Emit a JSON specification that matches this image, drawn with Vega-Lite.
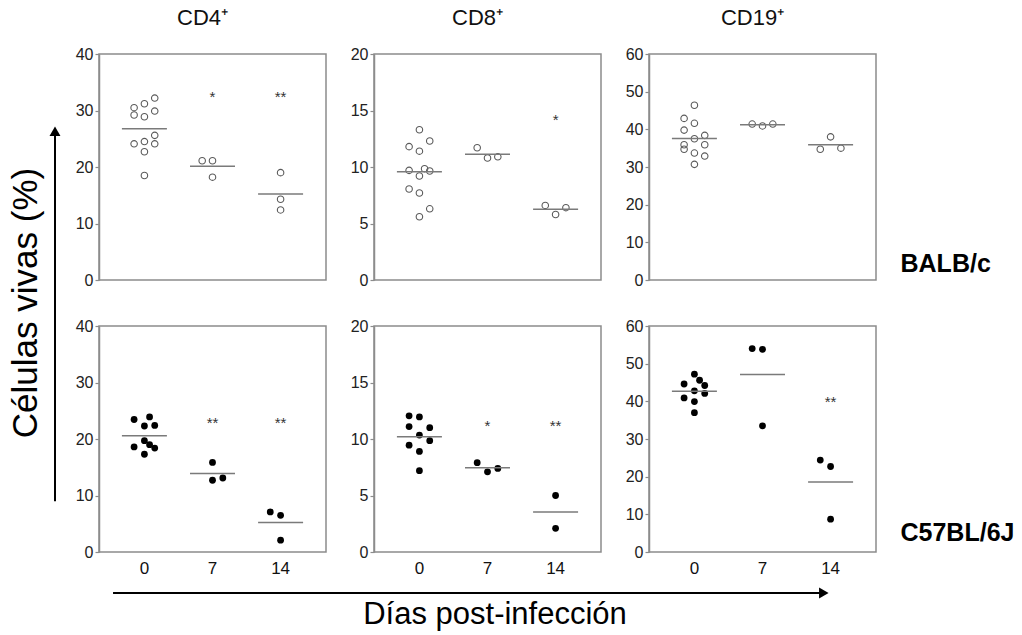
{
  "$schema": "https://vega.github.io/schema/vega-lite/v6.json",
  "padding": {"left": 8, "top": 6, "right": 0, "bottom": 0},
  "config": {
    "font": "Liberation Sans",
    "view": {"stroke": "#8c8c8c", "strokeWidth": 1.5},
    "axis": {"grid": false, "domainColor": "#8c8c8c", "domainWidth": 1.5, "tickColor": "#8c8c8c", "tickSize": 4, "tickWidth": 1.2, "labelColor": "#222", "labelFontSize": 16, "labelPadding": 2, "labelFont": "Liberation Sans", "titleFont": "Liberation Sans"},
    "title": {"font": "Liberation Sans", "fontWeight": "normal", "color": "#111"}
  },
  "datasets": {
    "dots": [
      {"strain": "BALB/c", "cell": "CD4", "day": 0, "value": 32.2, "jitter": 1},
      {"strain": "BALB/c", "cell": "CD4", "day": 0, "value": 31.2, "jitter": 0},
      {"strain": "BALB/c", "cell": "CD4", "day": 0, "value": 30.5, "jitter": -1},
      {"strain": "BALB/c", "cell": "CD4", "day": 0, "value": 29.2, "jitter": -1},
      {"strain": "BALB/c", "cell": "CD4", "day": 0, "value": 28.9, "jitter": 0},
      {"strain": "BALB/c", "cell": "CD4", "day": 0, "value": 29.9, "jitter": 1},
      {"strain": "BALB/c", "cell": "CD4", "day": 0, "value": 25.6, "jitter": 1},
      {"strain": "BALB/c", "cell": "CD4", "day": 0, "value": 24.1, "jitter": -1},
      {"strain": "BALB/c", "cell": "CD4", "day": 0, "value": 24.5, "jitter": 0},
      {"strain": "BALB/c", "cell": "CD4", "day": 0, "value": 24.1, "jitter": 1},
      {"strain": "BALB/c", "cell": "CD4", "day": 0, "value": 22.7, "jitter": 0},
      {"strain": "BALB/c", "cell": "CD4", "day": 0, "value": 18.5, "jitter": 0},
      {"strain": "BALB/c", "cell": "CD4", "day": 7, "value": 21.1, "jitter": -1},
      {"strain": "BALB/c", "cell": "CD4", "day": 7, "value": 21.1, "jitter": 0},
      {"strain": "BALB/c", "cell": "CD4", "day": 7, "value": 18.2, "jitter": 0},
      {"strain": "BALB/c", "cell": "CD4", "day": 14, "value": 19.0, "jitter": 0},
      {"strain": "BALB/c", "cell": "CD4", "day": 14, "value": 14.3, "jitter": 0},
      {"strain": "BALB/c", "cell": "CD4", "day": 14, "value": 12.4, "jitter": 0},

      {"strain": "BALB/c", "cell": "CD8", "day": 0, "value": 13.3, "jitter": 0},
      {"strain": "BALB/c", "cell": "CD8", "day": 0, "value": 12.3, "jitter": 1},
      {"strain": "BALB/c", "cell": "CD8", "day": 0, "value": 11.8, "jitter": -1},
      {"strain": "BALB/c", "cell": "CD8", "day": 0, "value": 11.4, "jitter": 0},
      {"strain": "BALB/c", "cell": "CD8", "day": 0, "value": 9.7, "jitter": -1},
      {"strain": "BALB/c", "cell": "CD8", "day": 0, "value": 9.85, "jitter": 0.5},
      {"strain": "BALB/c", "cell": "CD8", "day": 0, "value": 9.65, "jitter": 1},
      {"strain": "BALB/c", "cell": "CD8", "day": 0, "value": 9.2, "jitter": 0},
      {"strain": "BALB/c", "cell": "CD8", "day": 0, "value": 8.05, "jitter": -1},
      {"strain": "BALB/c", "cell": "CD8", "day": 0, "value": 7.7, "jitter": 0},
      {"strain": "BALB/c", "cell": "CD8", "day": 0, "value": 6.3, "jitter": 1},
      {"strain": "BALB/c", "cell": "CD8", "day": 0, "value": 5.6, "jitter": 0},
      {"strain": "BALB/c", "cell": "CD8", "day": 7, "value": 11.7, "jitter": -1},
      {"strain": "BALB/c", "cell": "CD8", "day": 7, "value": 10.8, "jitter": 0},
      {"strain": "BALB/c", "cell": "CD8", "day": 7, "value": 10.9, "jitter": 1},
      {"strain": "BALB/c", "cell": "CD8", "day": 14, "value": 6.6, "jitter": -1},
      {"strain": "BALB/c", "cell": "CD8", "day": 14, "value": 5.8, "jitter": 0},
      {"strain": "BALB/c", "cell": "CD8", "day": 14, "value": 6.4, "jitter": 1},

      {"strain": "BALB/c", "cell": "CD19", "day": 0, "value": 46.4, "jitter": 0},
      {"strain": "BALB/c", "cell": "CD19", "day": 0, "value": 42.9, "jitter": -1},
      {"strain": "BALB/c", "cell": "CD19", "day": 0, "value": 41.6, "jitter": 0},
      {"strain": "BALB/c", "cell": "CD19", "day": 0, "value": 39.8, "jitter": -1},
      {"strain": "BALB/c", "cell": "CD19", "day": 0, "value": 37.5, "jitter": 0},
      {"strain": "BALB/c", "cell": "CD19", "day": 0, "value": 38.4, "jitter": 1},
      {"strain": "BALB/c", "cell": "CD19", "day": 0, "value": 35.9, "jitter": -1},
      {"strain": "BALB/c", "cell": "CD19", "day": 0, "value": 34.7, "jitter": -1},
      {"strain": "BALB/c", "cell": "CD19", "day": 0, "value": 35.9, "jitter": 1},
      {"strain": "BALB/c", "cell": "CD19", "day": 0, "value": 33.7, "jitter": 0},
      {"strain": "BALB/c", "cell": "CD19", "day": 0, "value": 32.9, "jitter": 1},
      {"strain": "BALB/c", "cell": "CD19", "day": 0, "value": 30.7, "jitter": 0},
      {"strain": "BALB/c", "cell": "CD19", "day": 7, "value": 41.4, "jitter": -1},
      {"strain": "BALB/c", "cell": "CD19", "day": 7, "value": 40.9, "jitter": 0},
      {"strain": "BALB/c", "cell": "CD19", "day": 7, "value": 41.4, "jitter": 1},
      {"strain": "BALB/c", "cell": "CD19", "day": 14, "value": 38.0, "jitter": 0},
      {"strain": "BALB/c", "cell": "CD19", "day": 14, "value": 34.7, "jitter": -1},
      {"strain": "BALB/c", "cell": "CD19", "day": 14, "value": 35.0, "jitter": 1},

      {"strain": "C57BL/6J", "cell": "CD4", "day": 0, "value": 23.9, "jitter": 0.5},
      {"strain": "C57BL/6J", "cell": "CD4", "day": 0, "value": 23.45, "jitter": -1},
      {"strain": "C57BL/6J", "cell": "CD4", "day": 0, "value": 22.3, "jitter": 0},
      {"strain": "C57BL/6J", "cell": "CD4", "day": 0, "value": 22.4, "jitter": 1},
      {"strain": "C57BL/6J", "cell": "CD4", "day": 0, "value": 19.7, "jitter": 0},
      {"strain": "C57BL/6J", "cell": "CD4", "day": 0, "value": 19.0, "jitter": 0.5},
      {"strain": "C57BL/6J", "cell": "CD4", "day": 0, "value": 18.6, "jitter": -1},
      {"strain": "C57BL/6J", "cell": "CD4", "day": 0, "value": 18.4, "jitter": 1},
      {"strain": "C57BL/6J", "cell": "CD4", "day": 0, "value": 17.3, "jitter": 0},
      {"strain": "C57BL/6J", "cell": "CD4", "day": 7, "value": 15.85, "jitter": 0},
      {"strain": "C57BL/6J", "cell": "CD4", "day": 7, "value": 12.7, "jitter": 0},
      {"strain": "C57BL/6J", "cell": "CD4", "day": 7, "value": 13.1, "jitter": 1},
      {"strain": "C57BL/6J", "cell": "CD4", "day": 14, "value": 7.1, "jitter": -1},
      {"strain": "C57BL/6J", "cell": "CD4", "day": 14, "value": 6.5, "jitter": 0},
      {"strain": "C57BL/6J", "cell": "CD4", "day": 14, "value": 2.1, "jitter": 0},

      {"strain": "C57BL/6J", "cell": "CD8", "day": 0, "value": 12.05, "jitter": -1},
      {"strain": "C57BL/6J", "cell": "CD8", "day": 0, "value": 11.95, "jitter": 0},
      {"strain": "C57BL/6J", "cell": "CD8", "day": 0, "value": 11.1, "jitter": -1},
      {"strain": "C57BL/6J", "cell": "CD8", "day": 0, "value": 11.0, "jitter": 1},
      {"strain": "C57BL/6J", "cell": "CD8", "day": 0, "value": 10.35, "jitter": 0},
      {"strain": "C57BL/6J", "cell": "CD8", "day": 0, "value": 9.45, "jitter": -1},
      {"strain": "C57BL/6J", "cell": "CD8", "day": 0, "value": 9.85, "jitter": 1},
      {"strain": "C57BL/6J", "cell": "CD8", "day": 0, "value": 8.9, "jitter": 0},
      {"strain": "C57BL/6J", "cell": "CD8", "day": 0, "value": 7.2, "jitter": 0},
      {"strain": "C57BL/6J", "cell": "CD8", "day": 7, "value": 7.9, "jitter": -1},
      {"strain": "C57BL/6J", "cell": "CD8", "day": 7, "value": 7.1, "jitter": 0},
      {"strain": "C57BL/6J", "cell": "CD8", "day": 7, "value": 7.4, "jitter": 1},
      {"strain": "C57BL/6J", "cell": "CD8", "day": 14, "value": 5.0, "jitter": 0},
      {"strain": "C57BL/6J", "cell": "CD8", "day": 14, "value": 2.1, "jitter": 0},

      {"strain": "C57BL/6J", "cell": "CD19", "day": 0, "value": 47.2, "jitter": 0},
      {"strain": "C57BL/6J", "cell": "CD19", "day": 0, "value": 44.6, "jitter": -1},
      {"strain": "C57BL/6J", "cell": "CD19", "day": 0, "value": 45.6, "jitter": 0.5},
      {"strain": "C57BL/6J", "cell": "CD19", "day": 0, "value": 44.2, "jitter": 1},
      {"strain": "C57BL/6J", "cell": "CD19", "day": 0, "value": 42.8, "jitter": 0},
      {"strain": "C57BL/6J", "cell": "CD19", "day": 0, "value": 40.9, "jitter": -1},
      {"strain": "C57BL/6J", "cell": "CD19", "day": 0, "value": 42.1, "jitter": 1},
      {"strain": "C57BL/6J", "cell": "CD19", "day": 0, "value": 39.95, "jitter": 0},
      {"strain": "C57BL/6J", "cell": "CD19", "day": 0, "value": 37.0, "jitter": 0},
      {"strain": "C57BL/6J", "cell": "CD19", "day": 7, "value": 54.0, "jitter": -1},
      {"strain": "C57BL/6J", "cell": "CD19", "day": 7, "value": 53.8, "jitter": 0},
      {"strain": "C57BL/6J", "cell": "CD19", "day": 7, "value": 33.5, "jitter": 0},
      {"strain": "C57BL/6J", "cell": "CD19", "day": 14, "value": 24.4, "jitter": -1},
      {"strain": "C57BL/6J", "cell": "CD19", "day": 14, "value": 22.7, "jitter": 0},
      {"strain": "C57BL/6J", "cell": "CD19", "day": 14, "value": 8.7, "jitter": 0}
    ],
    "stars": [
      {"strain": "BALB/c", "cell": "CD4", "day": 7, "value": 33, "label": "*"},
      {"strain": "BALB/c", "cell": "CD4", "day": 14, "value": 33, "label": "**"},
      {"strain": "BALB/c", "cell": "CD8", "day": 14, "value": 14.4, "label": "*"},
      {"strain": "C57BL/6J", "cell": "CD4", "day": 7, "value": 23.4, "label": "**"},
      {"strain": "C57BL/6J", "cell": "CD4", "day": 14, "value": 23.4, "label": "**"},
      {"strain": "C57BL/6J", "cell": "CD8", "day": 7, "value": 11.4, "label": "*"},
      {"strain": "C57BL/6J", "cell": "CD8", "day": 14, "value": 11.4, "label": "**"},
      {"strain": "C57BL/6J", "cell": "CD19", "day": 14, "value": 40.5, "label": "**"}
    ]
  },
  "vconcat": [
    {
      "hconcat": [
        {
          "width": 16, "height": 498,
          "view": {"stroke": null},
          "data": {"values": [{"x": 0.5, "from": 0.102, "to": 0.845}]},
          "title": {"text": "Células vivas (%)", "orient": "left", "fontSize": 35, "offset": 3, "anchor": "middle", "color": "#000"},
          "layer": [
            {"mark": {"type": "rule", "strokeWidth": 2, "color": "#000"},
             "encoding": {"x": {"field": "x", "type": "quantitative", "scale": {"domain": [0, 1]}, "axis": null},
                          "y": {"field": "from", "type": "quantitative", "scale": {"domain": [0, 1]}, "axis": null},
                          "y2": {"field": "to"}}},
            {"mark": {"type": "point", "shape": "triangle-up", "filled": true, "color": "#000", "size": 120, "opacity": 1},
             "encoding": {"x": {"field": "x", "type": "quantitative", "scale": {"domain": [0, 1]}, "axis": null},
                          "y": {"field": "to", "type": "quantitative", "scale": {"domain": [0, 1]}, "axis": null}}}
          ]
        },
        {
          "columns": 3,
          "spacing": {"row": 46, "column": 48},
          "bounds": "flush",
          "concat": [
            {
              "width": 227, "height": 226,
              "title": {"text": "CD4⁺", "fontSize": 22, "offset": 16, "dx": -10},
              "layer": [
                {"data": {"name": "dots"}, "transform": [{"filter": "datum.strain === 'BALB/c' && datum.cell === 'CD4'"}],
                 "mark": {"type": "point", "shape": "circle", "filled": false, "size": 42, "strokeWidth": 1.1, "color": "#5a5a5a", "opacity": 1},
                 "encoding": {
                   "x": {"field": "day", "type": "ordinal", "scale": {"type": "band", "domain": [0, 7, 14], "paddingInner": 0, "paddingOuter": 0.167}, "axis": null},
                   "xOffset": {"field": "jitter", "type": "quantitative", "scale": {"domain": [-3.3, 3.3], "nice": false, "zero": false}},
                   "y": {"field": "value", "type": "quantitative", "scale": {"domain": [0, 40], "nice": false}, "axis": {"values": [0, 10, 20, 30, 40], "title": null}}}},
                {"data": {"name": "dots"}, "transform": [{"filter": "datum.strain === 'BALB/c' && datum.cell === 'CD4'"}],
                 "mark": {"type": "tick", "size": 45, "thickness": 1.5, "color": "#7a7a7a"},
                 "encoding": {
                   "x": {"field": "day", "type": "ordinal", "scale": {"type": "band", "domain": [0, 7, 14], "paddingInner": 0, "paddingOuter": 0.167}, "axis": null},
                   "y": {"aggregate": "mean", "field": "value", "type": "quantitative", "scale": {"domain": [0, 40], "nice": false}, "axis": {"values": [0, 10, 20, 30, 40], "title": null}}}},
                {"data": {"name": "stars"}, "transform": [{"filter": "datum.strain === 'BALB/c' && datum.cell === 'CD4'"}],
                 "mark": {"type": "text", "fontSize": 15, "color": "#333", "baseline": "alphabetic", "dy": 8},
                 "encoding": {
                   "x": {"field": "day", "type": "ordinal", "scale": {"type": "band", "domain": [0, 7, 14], "paddingInner": 0, "paddingOuter": 0.167}, "axis": null},
                   "y": {"field": "value", "type": "quantitative", "scale": {"domain": [0, 40], "nice": false}, "axis": {"values": [0, 10, 20, 30, 40], "title": null}},
                   "text": {"field": "label"}}}
              ]
            },
            {
              "width": 227, "height": 226,
              "title": {"text": "CD8⁺", "fontSize": 22, "offset": 16, "dx": -10},
              "layer": [
                {"data": {"name": "dots"}, "transform": [{"filter": "datum.strain === 'BALB/c' && datum.cell === 'CD8'"}],
                 "mark": {"type": "point", "shape": "circle", "filled": false, "size": 42, "strokeWidth": 1.1, "color": "#5a5a5a", "opacity": 1},
                 "encoding": {
                   "x": {"field": "day", "type": "ordinal", "scale": {"type": "band", "domain": [0, 7, 14], "paddingInner": 0, "paddingOuter": 0.167}, "axis": null},
                   "xOffset": {"field": "jitter", "type": "quantitative", "scale": {"domain": [-3.3, 3.3], "nice": false, "zero": false}},
                   "y": {"field": "value", "type": "quantitative", "scale": {"domain": [0, 20], "nice": false}, "axis": {"values": [0, 5, 10, 15, 20], "title": null}}}},
                {"data": {"name": "dots"}, "transform": [{"filter": "datum.strain === 'BALB/c' && datum.cell === 'CD8'"}],
                 "mark": {"type": "tick", "size": 45, "thickness": 1.5, "color": "#7a7a7a"},
                 "encoding": {
                   "x": {"field": "day", "type": "ordinal", "scale": {"type": "band", "domain": [0, 7, 14], "paddingInner": 0, "paddingOuter": 0.167}, "axis": null},
                   "y": {"aggregate": "mean", "field": "value", "type": "quantitative", "scale": {"domain": [0, 20], "nice": false}, "axis": {"values": [0, 5, 10, 15, 20], "title": null}}}},
                {"data": {"name": "stars"}, "transform": [{"filter": "datum.strain === 'BALB/c' && datum.cell === 'CD8'"}],
                 "mark": {"type": "text", "fontSize": 15, "color": "#333", "baseline": "alphabetic", "dy": 8},
                 "encoding": {
                   "x": {"field": "day", "type": "ordinal", "scale": {"type": "band", "domain": [0, 7, 14], "paddingInner": 0, "paddingOuter": 0.167}, "axis": null},
                   "y": {"field": "value", "type": "quantitative", "scale": {"domain": [0, 20], "nice": false}, "axis": {"values": [0, 5, 10, 15, 20], "title": null}},
                   "text": {"field": "label"}}}
              ]
            },
            {
              "width": 227, "height": 226,
              "title": {"text": "CD19⁺", "fontSize": 22, "offset": 16, "dx": -10},
              "resolve": {"axis": {"y": "independent"}},
              "layer": [
                {"data": {"name": "dots"}, "transform": [{"filter": "datum.strain === 'BALB/c' && datum.cell === 'CD19'"}],
                 "mark": {"type": "point", "shape": "circle", "filled": false, "size": 42, "strokeWidth": 1.1, "color": "#5a5a5a", "opacity": 1},
                 "encoding": {
                   "x": {"field": "day", "type": "ordinal", "scale": {"type": "band", "domain": [0, 7, 14], "paddingInner": 0, "paddingOuter": 0.167}, "axis": null},
                   "xOffset": {"field": "jitter", "type": "quantitative", "scale": {"domain": [-3.3, 3.3], "nice": false, "zero": false}},
                   "y": {"field": "value", "type": "quantitative", "scale": {"domain": [0, 60], "nice": false}, "axis": {"values": [0, 10, 20, 30, 40, 50, 60], "title": null}}}},
                {"data": {"name": "dots"}, "transform": [{"filter": "datum.strain === 'BALB/c' && datum.cell === 'CD19'"}],
                 "mark": {"type": "tick", "size": 45, "thickness": 1.5, "color": "#7a7a7a"},
                 "encoding": {
                   "x": {"field": "day", "type": "ordinal", "scale": {"type": "band", "domain": [0, 7, 14], "paddingInner": 0, "paddingOuter": 0.167}, "axis": null},
                   "y": {"aggregate": "mean", "field": "value", "type": "quantitative", "scale": {"domain": [0, 60], "nice": false},
                         "axis": {"orient": "right", "title": "BALB/c", "labels": false, "ticks": false, "domain": false, "titleAngle": 0, "titleAlign": "left", "titleBaseline": "middle", "titleFontSize": 25, "titleFontWeight": "bold", "titleColor": "#000", "titlePadding": 24, "titleY": 209}}}}
              ]
            },
            {
              "width": 227, "height": 226,
              "layer": [
                {"data": {"name": "dots"}, "transform": [{"filter": "datum.strain === 'C57BL/6J' && datum.cell === 'CD4'"}],
                 "mark": {"type": "point", "shape": "circle", "filled": true, "size": 46, "color": "#000", "opacity": 1},
                 "encoding": {
                   "x": {"field": "day", "type": "ordinal", "scale": {"type": "band", "domain": [0, 7, 14], "paddingInner": 0, "paddingOuter": 0.167}, "axis": {"title": null, "ticks": false, "domain": false, "labelAngle": 0, "labelFontSize": 17, "labelPadding": 8, "labelColor": "#111"}},
                   "xOffset": {"field": "jitter", "type": "quantitative", "scale": {"domain": [-3.3, 3.3], "nice": false, "zero": false}},
                   "y": {"field": "value", "type": "quantitative", "scale": {"domain": [0, 40], "nice": false}, "axis": {"values": [0, 10, 20, 30, 40], "title": null}}}},
                {"data": {"name": "dots"}, "transform": [{"filter": "datum.strain === 'C57BL/6J' && datum.cell === 'CD4'"}],
                 "mark": {"type": "tick", "size": 45, "thickness": 1.5, "color": "#7a7a7a"},
                 "encoding": {
                   "x": {"field": "day", "type": "ordinal", "scale": {"type": "band", "domain": [0, 7, 14], "paddingInner": 0, "paddingOuter": 0.167}, "axis": {"title": null, "ticks": false, "domain": false, "labelAngle": 0, "labelFontSize": 17, "labelPadding": 8, "labelColor": "#111"}},
                   "y": {"aggregate": "mean", "field": "value", "type": "quantitative", "scale": {"domain": [0, 40], "nice": false}, "axis": {"values": [0, 10, 20, 30, 40], "title": null}}}},
                {"data": {"name": "stars"}, "transform": [{"filter": "datum.strain === 'C57BL/6J' && datum.cell === 'CD4'"}],
                 "mark": {"type": "text", "fontSize": 15, "color": "#333", "baseline": "alphabetic", "dy": 8},
                 "encoding": {
                   "x": {"field": "day", "type": "ordinal", "scale": {"type": "band", "domain": [0, 7, 14], "paddingInner": 0, "paddingOuter": 0.167}, "axis": {"title": null, "ticks": false, "domain": false, "labelAngle": 0, "labelFontSize": 17, "labelPadding": 8, "labelColor": "#111"}},
                   "y": {"field": "value", "type": "quantitative", "scale": {"domain": [0, 40], "nice": false}, "axis": {"values": [0, 10, 20, 30, 40], "title": null}},
                   "text": {"field": "label"}}}
              ]
            },
            {
              "width": 227, "height": 226,
              "layer": [
                {"data": {"name": "dots"}, "transform": [{"filter": "datum.strain === 'C57BL/6J' && datum.cell === 'CD8'"}],
                 "mark": {"type": "point", "shape": "circle", "filled": true, "size": 46, "color": "#000", "opacity": 1},
                 "encoding": {
                   "x": {"field": "day", "type": "ordinal", "scale": {"type": "band", "domain": [0, 7, 14], "paddingInner": 0, "paddingOuter": 0.167}, "axis": {"title": null, "ticks": false, "domain": false, "labelAngle": 0, "labelFontSize": 17, "labelPadding": 8, "labelColor": "#111"}},
                   "xOffset": {"field": "jitter", "type": "quantitative", "scale": {"domain": [-3.3, 3.3], "nice": false, "zero": false}},
                   "y": {"field": "value", "type": "quantitative", "scale": {"domain": [0, 20], "nice": false}, "axis": {"values": [0, 5, 10, 15, 20], "title": null}}}},
                {"data": {"name": "dots"}, "transform": [{"filter": "datum.strain === 'C57BL/6J' && datum.cell === 'CD8'"}],
                 "mark": {"type": "tick", "size": 45, "thickness": 1.5, "color": "#7a7a7a"},
                 "encoding": {
                   "x": {"field": "day", "type": "ordinal", "scale": {"type": "band", "domain": [0, 7, 14], "paddingInner": 0, "paddingOuter": 0.167}, "axis": {"title": null, "ticks": false, "domain": false, "labelAngle": 0, "labelFontSize": 17, "labelPadding": 8, "labelColor": "#111"}},
                   "y": {"aggregate": "mean", "field": "value", "type": "quantitative", "scale": {"domain": [0, 20], "nice": false}, "axis": {"values": [0, 5, 10, 15, 20], "title": null}}}},
                {"data": {"name": "stars"}, "transform": [{"filter": "datum.strain === 'C57BL/6J' && datum.cell === 'CD8'"}],
                 "mark": {"type": "text", "fontSize": 15, "color": "#333", "baseline": "alphabetic", "dy": 8},
                 "encoding": {
                   "x": {"field": "day", "type": "ordinal", "scale": {"type": "band", "domain": [0, 7, 14], "paddingInner": 0, "paddingOuter": 0.167}, "axis": {"title": null, "ticks": false, "domain": false, "labelAngle": 0, "labelFontSize": 17, "labelPadding": 8, "labelColor": "#111"}},
                   "y": {"field": "value", "type": "quantitative", "scale": {"domain": [0, 20], "nice": false}, "axis": {"values": [0, 5, 10, 15, 20], "title": null}},
                   "text": {"field": "label"}}}
              ]
            },
            {
              "width": 227, "height": 226,
              "resolve": {"axis": {"y": "independent"}},
              "layer": [
                {"data": {"name": "dots"}, "transform": [{"filter": "datum.strain === 'C57BL/6J' && datum.cell === 'CD19'"}],
                 "mark": {"type": "point", "shape": "circle", "filled": true, "size": 46, "color": "#000", "opacity": 1},
                 "encoding": {
                   "x": {"field": "day", "type": "ordinal", "scale": {"type": "band", "domain": [0, 7, 14], "paddingInner": 0, "paddingOuter": 0.167}, "axis": {"title": null, "ticks": false, "domain": false, "labelAngle": 0, "labelFontSize": 17, "labelPadding": 8, "labelColor": "#111"}},
                   "xOffset": {"field": "jitter", "type": "quantitative", "scale": {"domain": [-3.3, 3.3], "nice": false, "zero": false}},
                   "y": {"field": "value", "type": "quantitative", "scale": {"domain": [0, 60], "nice": false}, "axis": {"values": [0, 10, 20, 30, 40, 50, 60], "title": null}}}},
                {"data": {"name": "dots"}, "transform": [{"filter": "datum.strain === 'C57BL/6J' && datum.cell === 'CD19'"}],
                 "mark": {"type": "tick", "size": 45, "thickness": 1.5, "color": "#7a7a7a"},
                 "encoding": {
                   "x": {"field": "day", "type": "ordinal", "scale": {"type": "band", "domain": [0, 7, 14], "paddingInner": 0, "paddingOuter": 0.167}, "axis": {"title": null, "ticks": false, "domain": false, "labelAngle": 0, "labelFontSize": 17, "labelPadding": 8, "labelColor": "#111"}},
                   "y": {"aggregate": "mean", "field": "value", "type": "quantitative", "scale": {"domain": [0, 60], "nice": false},
                         "axis": {"orient": "right", "title": "C57BL/6J", "labels": false, "ticks": false, "domain": false, "titleAngle": 0, "titleAlign": "left", "titleBaseline": "middle", "titleFontSize": 25, "titleFontWeight": "bold", "titleColor": "#000", "titlePadding": 24, "titleY": 206}}}},
                {"data": {"name": "stars"}, "transform": [{"filter": "datum.strain === 'C57BL/6J' && datum.cell === 'CD19'"}],
                 "mark": {"type": "text", "fontSize": 15, "color": "#333", "baseline": "alphabetic", "dy": 8},
                 "encoding": {
                   "x": {"field": "day", "type": "ordinal", "scale": {"type": "band", "domain": [0, 7, 14], "paddingInner": 0, "paddingOuter": 0.167}, "axis": {"title": null, "ticks": false, "domain": false, "labelAngle": 0, "labelFontSize": 17, "labelPadding": 8, "labelColor": "#111"}},
                   "y": {"field": "value", "type": "quantitative", "scale": {"domain": [0, 60], "nice": false}, "axis": null},
                   "text": {"field": "label"}}}
              ]
            }
          ]
        }
      ],
      "spacing": 11
    },
    {
      "width": 896, "height": 10,
      "view": {"stroke": null},
      "data": {"values": [{"y": 0.5, "from": 0.0737, "to": 0.867}]},
      "title": {"text": "Días post-infección", "orient": "bottom", "fontSize": 31, "offset": 2, "color": "#000"},
      "layer": [
        {"mark": {"type": "rule", "strokeWidth": 2, "color": "#000"},
         "encoding": {"y": {"field": "y", "type": "quantitative", "scale": {"domain": [0, 1]}, "axis": null},
                      "x": {"field": "from", "type": "quantitative", "scale": {"domain": [0, 1]}, "axis": null},
                      "x2": {"field": "to"}}},
        {"mark": {"type": "point", "shape": "triangle-right", "filled": true, "color": "#000", "size": 120, "opacity": 1},
         "encoding": {"y": {"field": "y", "type": "quantitative", "scale": {"domain": [0, 1]}, "axis": null},
                      "x": {"field": "to", "type": "quantitative", "scale": {"domain": [0, 1]}, "axis": null}}}
      ]
    }
  ],
  "spacing": 10
}
